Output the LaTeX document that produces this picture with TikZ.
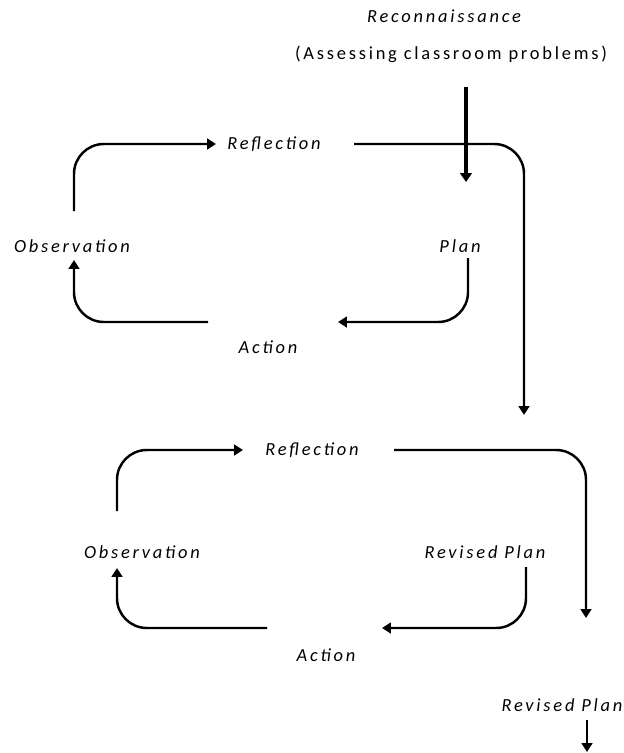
\documentclass[tikz,border=0pt]{standalone}
\usepackage{fontspec}
\setmainfont{Carlito}[LetterSpace=15]
\usepackage{tikz}
\usetikzlibrary{positioning,calc,arrows.meta}

\begin{document}
\begin{tikzpicture}[x=0.02cm,y=-0.02cm,
        label/.style={inner sep=0pt,font=\fontsize{10.5}{12}\selectfont\itshape},
        flow/.style={line width=1.4pt,rounded corners=17pt,-{Triangle[length=5pt,width=6pt]}},
        bigflow/.style={line width=1.9pt,-{Triangle[length=5pt,width=6.5pt]}}]
    \useasboundingbox (0,0) rectangle (623,753);

    \node[label] (recon) at (444,16) {Reconnaissance};
    \node[label,font=\fontsize{10.5}{12}\selectfont] (assess) at (451,54) {(Assessing classroom problems)};

    \node[label] (refl1) at (274,144) {Reflection};
    \node[label] (obs1) at (72,246) {Observation};
    \node[label] (plan1) at (460,246) {Plan};
    \node[label] (act1) at (268,347) {Action};

    \node[label] (refl2) at (312,450) {Reflection};
    \node[label] (obs2) at (142,552) {Observation};
    \node[label] (plan2) at (485,552) {Revised Plan};
    \node[label] (act2) at (326,655) {Action};

    \node[label] (plan3) at (562,705) {Revised Plan};

    \draw[bigflow] ($(assess)+(15,33)$) -- ($(plan1)+(6,-64)$);

    \draw[flow] ($(obs1)+(2,-35)$) |- ($(refl1)+(-58,0)$);
    \draw[flow] ($(refl1)+(80,0)$) -| ($(refl2)+(212,-35)$);
    \draw[flow] ($(plan1)+(8,12)$) |- ($(act1)+(70,-25)$);
    \draw[flow] ($(act1)+(-60,-25)$) -| ($(obs1)+(2,14)$);

    \draw[flow] ($(obs2)+(-25,-41)$) |- ($(refl2)+(-69,0)$);
    \draw[flow] ($(refl2)+(82,0)$) -| ($(plan3)+(24,-87)$);
    \draw[flow] ($(plan2)+(41,15)$) |- ($(act2)+(56,-27)$);
    \draw[flow] ($(act2)+(-59,-27)$) -| ($(obs2)+(-25,16)$);

    \draw[flow] ($(plan3)+(25,15)$) -- ($(plan3)+(25,47)$);
\end{tikzpicture}
\end{document}
